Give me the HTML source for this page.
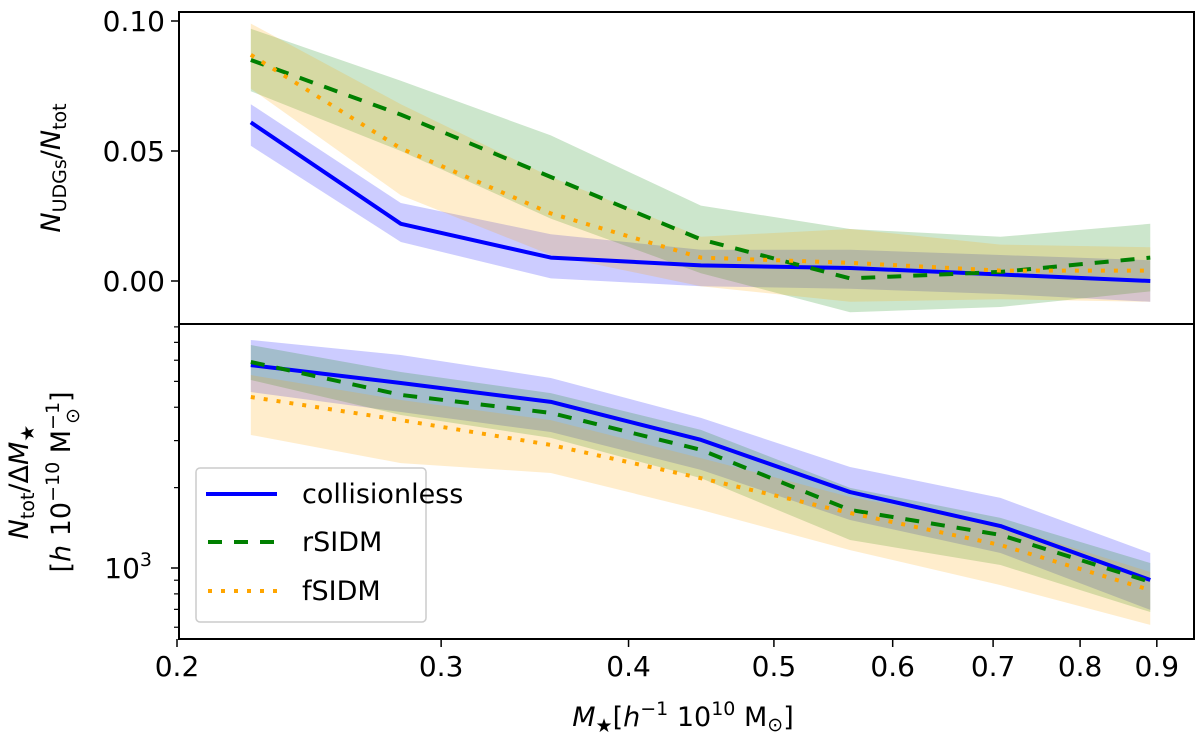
<!DOCTYPE html>
<html><head><meta charset="utf-8">
<style>
html,body{margin:0;padding:0;background:#fff;}
svg{display:block;font-family:"DejaVu Sans","Liberation Sans",sans-serif;}
</style></head>
<body>
<svg id="chart" width="1200" height="738" viewBox="0 0 1200 738" xmlns="http://www.w3.org/2000/svg">
<defs>
<clipPath id="clipTop"><rect x="179" y="12" width="1015" height="312"/></clipPath>
<clipPath id="clipBot"><rect x="179" y="324" width="1015" height="315"/></clipPath>
</defs>
<g id="topBands" clip-path="url(#clipTop)"></g>
<g id="botBands" clip-path="url(#clipBot)"></g>
<g id="axes"></g>
<text transform="translate(60,168) rotate(-90)" text-anchor="middle" font-size="27"><tspan font-style="italic">N</tspan><tspan font-size="19" dy="6">UDGs</tspan><tspan dy="-6">/</tspan><tspan font-style="italic">N</tspan><tspan font-size="19" dy="6">tot</tspan></text>
<text transform="translate(28,482) rotate(-90)" text-anchor="middle" font-size="27"><tspan font-style="italic">N</tspan><tspan font-size="19" dy="6">tot</tspan><tspan dy="-6">/Δ</tspan><tspan font-style="italic">M</tspan><tspan font-size="19" dy="6">★</tspan></text>
<text transform="translate(70,482) rotate(-90)" text-anchor="middle" font-size="27">[<tspan font-style="italic">h</tspan> 10<tspan font-size="19" dy="-11">−10</tspan><tspan dy="11"> M</tspan><tspan font-size="19" dy="-11">−1</tspan><tspan dx="-22" dy="20" font-size="19">⊙</tspan><tspan dy="-9" dx="6">]</tspan></text>
<text x="683" y="726" text-anchor="middle" font-size="27"><tspan font-style="italic">M</tspan><tspan font-size="19" dy="6">★</tspan><tspan dy="-6">[</tspan><tspan font-style="italic">h</tspan><tspan font-size="19" dy="-11">−1</tspan><tspan dy="11"> 10</tspan><tspan font-size="19" dy="-11">10</tspan><tspan dy="11"> M</tspan><tspan font-size="19" dy="5">⊙</tspan><tspan dy="-5">]</tspan></text>
<g>
<rect x="196" y="468" width="230" height="154" rx="4" fill="#fff" fill-opacity="0.8" stroke="#ccc" stroke-width="1.5"/>
<line x1="206" y1="494" x2="277" y2="494" stroke="#0000ff" stroke-width="4"/>
<text x="302" y="503" font-size="27">collisionless</text>
<line x1="208" y1="542" x2="277" y2="542" stroke="#008000" stroke-width="4" stroke-dasharray="14,12"/>
<text x="302" y="551" font-size="27">rSIDM</text>
<line x1="208" y1="591" x2="277" y2="591" stroke="#ffa500" stroke-width="4" stroke-dasharray="4,9"/>
<text x="302" y="600" font-size="27">fSIDM</text>
</g>
</svg>
<script>
const xVals = [0.224, 0.282, 0.355, 0.447, 0.562, 0.708, 0.891];
const fracColl = [0.061, 0.022, 0.009, 0.006, 0.005, 0.0025, 0.0];
const fracCollLo = [0.052, 0.015, 0.001, -0.002, -0.003, -0.005, -0.008];
const fracCollHi = [0.068, 0.030, 0.018, 0.012, 0.012, 0.010, 0.008];
const fracR = [0.085, 0.064, 0.040, 0.016, 0.001, 0.0035, 0.009];
const fracRLo = [0.073, 0.050, 0.024, 0.003, -0.012, -0.010, -0.004];
const fracRHi = [0.097, 0.077, 0.056, 0.029, 0.020, 0.017, 0.022];
const fracF = [0.087, 0.051, 0.026, 0.009, 0.007, 0.004, 0.004];
const fracFLo = [0.074, 0.033, 0.010, -0.002, -0.008, -0.007, -0.008];
const fracFHi = [0.099, 0.068, 0.040, 0.017, 0.020, 0.014, 0.013];
const numColl = [5750, 4930, 4190, 3020, 1925, 1436, 902];
const numCollLo = [4560, 3840, 3230, 2330, 1513, 1138, 697];
const numCollHi = [7145, 6280, 5150, 3650, 2390, 1830, 1138];
const numR = [5910, 4450, 3810, 2770, 1650, 1330, 887];
const numRLo = [5060, 3740, 3070, 2170, 1273, 1026, 684];
const numRHi = [6840, 5420, 4520, 3290, 1995, 1540, 1044];
const numF = [4370, 3580, 2890, 2170, 1607, 1219, 827];
const numFLo = [3150, 2470, 2270, 1650, 1167, 863, 612];
const numFHi = [5280, 4260, 3580, 2580, 1845, 1449, 966];
const xTicks = [0.2, 0.3, 0.4, 0.5, 0.6, 0.7, 0.8, 0.9];
const xTickLabels = ["0.2","0.3","0.4","0.5","0.6","0.7","0.8","0.9"];
const topTicks = [0.0, 0.05, 0.10];
const topTickLabels = ["0.00","0.05","0.10"];

const NS = "http://www.w3.org/2000/svg";
function X(v){ return 177 + 1500*Math.log10(v/0.2); }
function YT(v){ return 281 - 2600*v; }
function YB(v){ return 568 - 267*(Math.log10(v) - 3); }
function mk(tag, attrs, parent){
  const e = document.createElementNS(NS, tag);
  for (const k in attrs) e.setAttribute(k, attrs[k]);
  parent.appendChild(e); return e;
}
function band(parent, lo, hi, yf, color, name){
  let d = "";
  xVals.forEach((x,i)=>{ d += (i?"L":"M") + X(x) + "," + yf(hi[i]); });
  for (let i = xVals.length-1; i>=0; i--) d += "L" + X(xVals[i]) + "," + yf(lo[i]);
  const p = mk("path", {d: d+"Z", fill: color, "fill-opacity": 0.2, stroke: "none"}, parent);
  
  
}
function line(parent, vals, yf, color, dash, name){
  const pts = xVals.map((x,i)=>X(x)+","+yf(vals[i])).join(" ");
  const p = mk("polyline", {points: pts, fill: "none", stroke: color, "stroke-width": 4, "stroke-linejoin": "round"}, parent);
  if (dash) p.setAttribute("stroke-dasharray", dash);
  
  
}
const gt = document.getElementById("topBands");
band(gt, fracCollLo, fracCollHi, YT, "#0000ff", "top-band-collisionless");
band(gt, fracRLo, fracRHi, YT, "#008000", "top-band-rsidm");
band(gt, fracFLo, fracFHi, YT, "#ffa500", "top-band-fsidm");
line(gt, fracColl, YT, "#0000ff", null, "top-line-collisionless");
line(gt, fracR, YT, "#008000", "14,12", "top-line-rsidm");
line(gt, fracF, YT, "#ffa500", "4,9", "top-line-fsidm");
const gb = document.getElementById("botBands");
band(gb, numCollLo, numCollHi, YB, "#0000ff", "bottom-band-collisionless");
band(gb, numRLo, numRHi, YB, "#008000", "bottom-band-rsidm");
band(gb, numFLo, numFHi, YB, "#ffa500", "bottom-band-fsidm");
line(gb, numColl, YB, "#0000ff", null, "bottom-line-collisionless");
line(gb, numR, YB, "#008000", "14,12", "bottom-line-rsidm");
line(gb, numF, YB, "#ffa500", "4,9", "bottom-line-fsidm");

const ga = document.getElementById("axes");
let r = mk("rect", {x:179, y:12, width:1015, height:312, fill:"none", stroke:"#000", "stroke-width":2}, ga);


r = mk("rect", {x:179, y:324, width:1015, height:315, fill:"none", stroke:"#000", "stroke-width":2}, ga);


xTicks.forEach((v,i)=>{
  const x = X(v);
  mk("line", {x1:x, y1:639, x2:x, y2:647, stroke:"#000", "stroke-width":1.5}, ga);
  const t = mk("text", {x:x, y:676, "text-anchor":"middle", "font-size":28}, ga);
  t.textContent = xTickLabels[i];
  
  
});
topTicks.forEach((v,i)=>{
  const y = YT(v);
  mk("line", {x1:171, y1:y, x2:179, y2:y, stroke:"#000", "stroke-width":1.5}, ga);
  const t = mk("text", {x:165, y:y+10, "text-anchor":"end", "font-size":28}, ga);
  t.textContent = topTickLabels[i];
  
  
});
[600,700,800,900,1000,2000,3000,4000,5000,6000,7000,8000].forEach(v=>{
  const y = YB(v);
  const major = v===1000;
  mk("line", {x1: major?171:174, y1:y, x2:179, y2:y, stroke:"#000", "stroke-width":major?1.5:1.2}, ga);
});
const t3 = mk("text", {x:152, y:YB(1000)+10, "text-anchor":"end", "font-size":28}, ga);
t3.innerHTML = '10<tspan font-size="19" dy="-12">3</tspan>';


</script>
</body></html>
